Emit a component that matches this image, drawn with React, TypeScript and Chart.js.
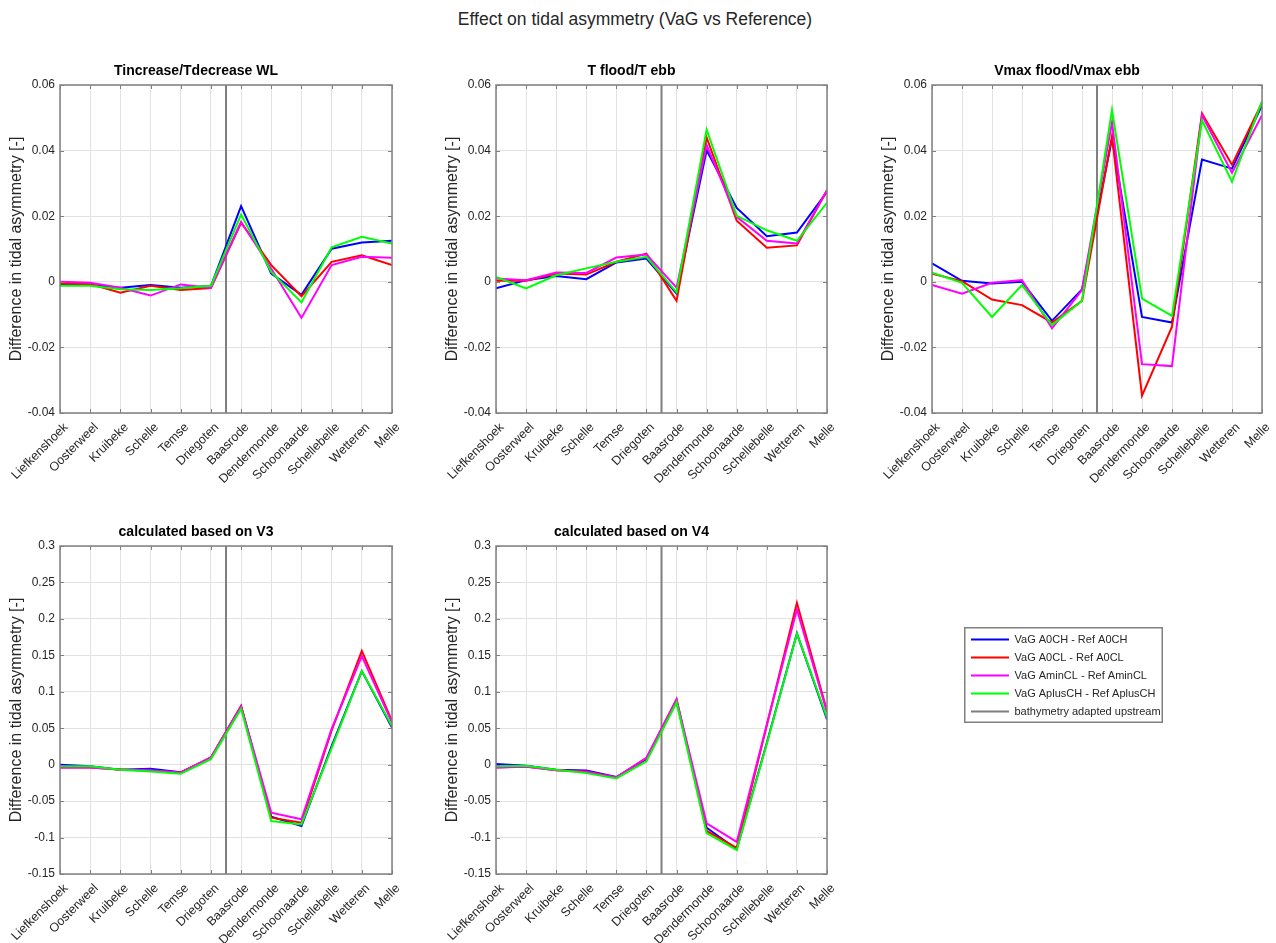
import React, { useEffect, useRef } from 'react';
import { Chart, registerables } from 'chart.js';

Chart.register(...registerables);
Chart.defaults.font.family = '"Liberation Sans", Arial, Helvetica, sans-serif';

// ---------- data ----------
const stations = [
  'Liefkenshoek', 'Oosterweel', 'Kruibeke', 'Schelle', 'Temse', 'Driegoten',
  'Baasrode', 'Dendermonde', 'Schoonaarde', 'Schellebelle', 'Wetteren', 'Melle',
];
const seriesLabels = [
  'VaG A0CH - Ref A0CH',
  'VaG A0CL - Ref A0CL',
  'VaG AminCL - Ref AminCL',
  'VaG AplusCH - Ref AplusCH',
];
const seriesColors = ['#0000ff', '#ff0000', '#ff00ff', '#00ff00'];
const boundaryLabel = 'bathymetry adapted upstream';
const boundaryColor = '#7f7f7f';
const boundaryPosition = 5.5;

// Tincrease/Tdecrease WL
const wlA0CH = [-0.001, -0.001, -0.0018, -0.001, -0.0018, -0.0013, 0.0231, 0.0025, -0.004, 0.0101, 0.012, 0.0125];
const wlA0CL = [-0.0005, -0.0007, -0.0033, -0.0012, -0.0025, -0.0019, 0.018, 0.0051, -0.0044, 0.0061, 0.0081, 0.0051];
const wlAminCL = [0.0, -0.0003, -0.0018, -0.0042, -0.0008, -0.0019, 0.0183, 0.004, -0.011, 0.0051, 0.0076, 0.0073];
const wlAplusCH = [-0.0012, -0.0012, -0.0023, -0.0025, -0.002, -0.0012, 0.0205, 0.003, -0.0063, 0.0105, 0.0137, 0.0117];

// T flood/T ebb
const tA0CH = [-0.002, 0.0005, 0.0018, 0.0008, 0.0059, 0.0071, -0.0036, 0.0401, 0.0225, 0.0139, 0.015, 0.0274];
const tA0CL = [0.0003, 0.0003, 0.0025, 0.0022, 0.0061, 0.0086, -0.0058, 0.044, 0.0186, 0.0104, 0.0111, 0.0279];
const tAminCL = [0.001, 0.0005, 0.0028, 0.0027, 0.0074, 0.0083, -0.0018, 0.0416, 0.0198, 0.0125, 0.0117, 0.0279];
const tAplusCH = [0.0015, -0.002, 0.002, 0.0041, 0.0061, 0.0076, -0.0032, 0.0464, 0.0201, 0.0157, 0.0125, 0.0241];

// Vmax flood/Vmax ebb
const vA0CH = [0.0056, 0.0003, -0.0005, 0.0, -0.0119, -0.0023, 0.0437, -0.0107, -0.0124, 0.0373, 0.0345, 0.0538];
const vA0CL = [0.0025, 0.0002, -0.0054, -0.0071, -0.0124, -0.0058, 0.0444, -0.0347, -0.0137, 0.0513, 0.0357, 0.0546];
const vAminCL = [-0.001, -0.0036, -0.0003, 0.0005, -0.0142, -0.0025, 0.0487, -0.0251, -0.0257, 0.0508, 0.0332, 0.0508];
const vAplusCH = [0.0028, -0.0003, -0.0107, -0.001, -0.0132, -0.0058, 0.0523, -0.0051, -0.0104, 0.0492, 0.0305, 0.0551];

// calculated based on V3
const v3A0CH = [0.0, -0.0023, -0.007, -0.0055, -0.0105, 0.009, 0.0798, -0.0714, -0.0842, 0.0256, 0.1285, 0.0508];
const v3A0CL = [-0.004, -0.004, -0.0065, -0.0083, -0.0106, 0.0099, 0.0807, -0.0727, -0.0796, 0.047, 0.156, 0.06];
const v3AminCL = [-0.004, -0.004, -0.007, -0.0075, -0.011, 0.0099, 0.0798, -0.0659, -0.075, 0.049, 0.149, 0.0576];
const v3AplusCH = [-0.0023, -0.0023, -0.007, -0.0093, -0.0125, 0.0076, 0.0766, -0.0773, -0.082, 0.0227, 0.1285, 0.053];

// calculated based on V4
const v4A0CH = [0.001, -0.0015, -0.007, -0.008, -0.017, 0.0076, 0.0867, -0.0865, -0.116, 0.03, 0.18, 0.062];
const v4A0CL = [-0.004, -0.0025, -0.0075, -0.0095, -0.0175, 0.009, 0.09, -0.091, -0.114, 0.054, 0.222, 0.0737];
const v4AminCL = [-0.004, -0.003, -0.0075, -0.01, -0.0175, 0.0095, 0.089, -0.0805, -0.106, 0.055, 0.213, 0.072];
const v4AplusCH = [-0.0023, -0.0015, -0.007, -0.0116, -0.0189, 0.0045, 0.0853, -0.094, -0.117, 0.029, 0.18, 0.0645];

const smallRange = { min: -0.04, max: 0.06, step: 0.02 };
const largeRange = { min: -0.15, max: 0.3, step: 0.05 };

const mainTitle = 'Effect on tidal asymmetry (VaG vs Reference)';
const yTitle = 'Difference in tidal asymmetry [-]';

// ---------- layout ----------
const AXIS_W = 60;
const TITLE_H = 30;
const XAXIS_H = 85;
const RIGHT_PAD = 20;
const TEXT = '#262626';
const GRID = '#e2e2e2';
const BOX = '#808080';

const panels = [
  { title: 'Tincrease/Tdecrease WL', series: [wlA0CH, wlA0CL, wlAminCL, wlAplusCH], range: smallRange, box: { left: 60, top: 85, width: 332, height: 328 } },
  { title: 'T flood/T ebb', series: [tA0CH, tA0CL, tAminCL, tAplusCH], range: smallRange, box: { left: 496, top: 85, width: 331, height: 328 } },
  { title: 'Vmax flood/Vmax ebb', series: [vA0CH, vA0CL, vAminCL, vAplusCH], range: smallRange, box: { left: 932, top: 85, width: 330, height: 328 } },
  { title: 'calculated based on V3', series: [v3A0CH, v3A0CL, v3AminCL, v3AplusCH], range: largeRange, box: { left: 60, top: 546, width: 332, height: 328 } },
  { title: 'calculated based on V4', series: [v4A0CH, v4A0CL, v4AminCL, v4AplusCH], range: largeRange, box: { left: 496, top: 546, width: 331, height: 328 } },
];

const legendBox = { left: 964, top: 627, width: 199, height: 96 };

const fmt = (v: number) => {
  const r = Math.round(v * 1000) / 1000;
  return Object.is(r, -0) ? '0' : String(r);
};

const boxPlugin = {
  id: 'matlabBox',
  afterDraw(chart: any) {
    const { ctx, chartArea: a, scales } = chart;
    ctx.save();
    ctx.strokeStyle = BOX;
    ctx.lineWidth = 1;
    const tl = 4;
    ctx.beginPath();
    scales.y.ticks.forEach((t: any) => {
      const y = Math.round(scales.y.getPixelForValue(t.value)) + 0.5;
      ctx.moveTo(a.left, y); ctx.lineTo(a.left + tl, y);
      ctx.moveTo(a.right, y); ctx.lineTo(a.right - tl, y);
    });
    scales.x.ticks.forEach((t: any) => {
      const x = Math.round(scales.x.getPixelForValue(t.value)) + 0.5;
      ctx.moveTo(x, a.bottom); ctx.lineTo(x, a.bottom - tl);
      ctx.moveTo(x, a.top); ctx.lineTo(x, a.top + tl);
    });
    ctx.stroke();
    ctx.lineWidth = 1.5;
    ctx.strokeRect(a.left, a.top, a.right - a.left, a.bottom - a.top);
    ctx.restore();
  },
};

function Panel({ title, series, range, box }: any) {
  const ref = useRef<HTMLCanvasElement>(null);
  const cw = box.width + AXIS_W + RIGHT_PAD;
  const ch = box.height + TITLE_H + XAXIS_H;
  useEffect(() => {
    if (!ref.current) return;
    const datasets: any[] = series.map((vals: number[], si: number) => ({
      label: seriesLabels[si],
      data: stations.map((_, i) => ({ x: i, y: vals[i] })),
      borderColor: seriesColors[si],
      backgroundColor: seriesColors[si],
      borderWidth: 2,
      pointRadius: 0,
      tension: 0,
      order: 4 - si,
    }));
    datasets.push({
      label: boundaryLabel,
      data: [{ x: boundaryPosition, y: range.min }, { x: boundaryPosition, y: range.max }],
      borderColor: boundaryColor,
      backgroundColor: boundaryColor,
      borderWidth: 2,
      pointRadius: 0,
      order: 10,
    });
    const chart = new Chart(ref.current, {
      type: 'line',
      data: { datasets },
      options: {
        animation: false,
        responsive: false,
        events: [],
        layout: { padding: { left: 0, right: RIGHT_PAD, top: 0, bottom: 0 } },
        plugins: {
          legend: { display: false },
          tooltip: { enabled: false },
          title: {
            display: true,
            text: title,
            color: '#000000',
            font: { size: 14, weight: 'bold' },
            padding: { top: 8, bottom: 5.2 },
          },
        },
        scales: {
          x: {
            type: 'linear',
            min: 0,
            max: 11,
            offset: false,
            afterFit: (s: any) => { s.height = XAXIS_H; },
            grid: { color: GRID, drawTicks: false },
            border: { display: false },
            ticks: {
              stepSize: 1,
              autoSkip: false,
              maxRotation: 45,
              minRotation: 45,
              padding: 7,
              labelOffset: 6,
              color: TEXT,
              font: { size: 12.5 },
              callback: (v: any) => stations[v] ?? '',
            },
          },
          y: {
            type: 'linear',
            min: range.min,
            max: range.max,
            afterFit: (s: any) => { s.width = AXIS_W; },
            grid: { color: GRID, drawTicks: false },
            border: { display: false },
            ticks: {
              stepSize: range.step,
              padding: 5,
              color: TEXT,
              font: { size: 12 },
              callback: (v: any) => fmt(Number(v)),
            },
            title: {
              display: true,
              text: yTitle,
              color: TEXT,
              font: { size: 16 },
              padding: { top: 7, bottom: 0 },
            },
          },
        },
      } as any,
      plugins: [boxPlugin],
    });
    return () => chart.destroy();
  }, []);
  return (
    <canvas
      ref={ref}
      width={cw}
      height={ch}
      style={{ position: 'absolute', left: box.left - AXIS_W, top: box.top - TITLE_H, width: cw, height: ch }}
    />
  );
}

const legendBorderPlugin = {
  id: 'legendBorder',
  afterDraw(chart: any) {
    const { ctx } = chart;
    ctx.save();
    ctx.strokeStyle = BOX;
    ctx.lineWidth = 1.5;
    ctx.strokeRect(0.75, 0.75, legendBox.width - 1.5, legendBox.height - 1.5);
    ctx.restore();
  },
};

function LegendChart() {
  const ref = useRef<HTMLCanvasElement>(null);
  const ch = 240;
  useEffect(() => {
    if (!ref.current) return;
    const labels = [...seriesLabels, boundaryLabel];
    const colors = [...seriesColors, boundaryColor];
    const chart = new Chart(ref.current, {
      type: 'line',
      data: {
        datasets: labels.map((l, i) => ({ label: l, data: [], borderColor: colors[i], borderWidth: 2 })),
      },
      options: {
        animation: false,
        responsive: false,
        events: [],
        layout: { padding: 0 },
        scales: { x: { display: false }, y: { display: false } },
        plugins: {
          tooltip: { enabled: false },
          legend: {
            display: true,
            position: 'top',
            align: 'start',
            labels: {
              usePointStyle: true,
              pointStyle: 'line',
              pointStyleWidth: 38,
              padding: 7,
              color: TEXT,
              font: { size: 11 },
              generateLabels: () =>
                labels.map((l, i) => ({
                  text: l,
                  strokeStyle: colors[i],
                  fillStyle: colors[i],
                  lineWidth: 2,
                  pointStyle: 'line',
                  hidden: false,
                  datasetIndex: i,
                  fontColor: TEXT,
                })),
            },
          },
        },
      } as any,
      plugins: [legendBorderPlugin],
    });
    return () => chart.destroy();
  }, []);
  return (
    <canvas
      ref={ref}
      width={legendBox.width}
      height={ch}
      style={{ position: 'absolute', left: legendBox.left, top: legendBox.top, width: legendBox.width, height: ch }}
    />
  );
}

export default function App() {
  return (
    <div style={{ position: 'absolute', left: 0, top: 0, width: 1276, height: 943, overflow: 'hidden', background: '#ffffff' }}>
      <div
        style={{
          position: 'absolute', left: 0, top: 8, width: 1270, textAlign: 'center',
          fontFamily: '"Liberation Sans", Arial, sans-serif', fontSize: 17.5, lineHeight: '22px', color: TEXT,
        }}
      >
        {mainTitle}
      </div>
      {panels.map((p, i) => (
        <Panel key={i} {...p} />
      ))}
      <LegendChart />
    </div>
  );
}
